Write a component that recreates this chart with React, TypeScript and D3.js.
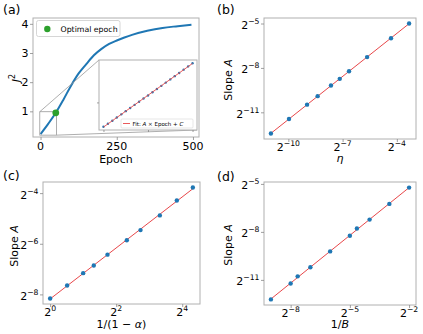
import React, { useRef, useEffect } from "react";
import * as d3 from "d3";

const W = 423;
const H = 334;
const FONT = "DejaVu Sans";
const BLUE = "#1f77b4";
const RED = "#e8474a";
const GREEN = "#2ca02c";
const SPINE = "#b0b0b0";

// (a) J^2 during training
const epochs = [0, 25, 50, 75, 100, 125, 150, 175, 200, 225, 250, 275, 300, 350, 400, 450, 495];
const j2 = [0.22, 0.57, 0.95, 1.4, 1.88, 2.3, 2.62, 2.92, 3.14, 3.31, 3.43, 3.53, 3.62, 3.76, 3.86, 3.92, 3.97];
const optimalEpoch = 50;
const optimalJ2 = 0.95;
const insetEpochs = [0, 2.5, 5, 7.5, 10, 12.5, 15, 17.5, 20, 22.5, 25, 27.5, 30, 32.5, 35, 37.5, 40, 42.5, 45, 47.5, 50];
const insetJ2 = [0.22, 0.255, 0.29, 0.327, 0.363, 0.4, 0.436, 0.472, 0.508, 0.544, 0.58, 0.617, 0.653, 0.69, 0.727, 0.764, 0.801, 0.838, 0.876, 0.913, 0.95];
const xTicksA = [0, 250, 500];
const yTicksA = [1, 2, 3, 4];

// (b) slope vs learning rate
const eta = [0.0005, 0.001, 0.002, 0.003, 0.005, 0.007, 0.01, 0.02, 0.05, 0.1];
const slopeEta = [1.811e-4, 3.574e-4, 7.0e-4, 1.04e-3, 1.713e-3, 2.338e-3, 3.352e-3, 6.48e-3, 0.015625, 0.03125];
const xTicksB = [-10, -7, -4];
const yTicksB = [-5, -8, -11];

// (c) slope vs momentum
const alpha = [0, 0.3, 0.5, 0.6, 0.7, 0.8, 0.85, 0.9, 0.93, 0.95];
const slopeAlpha = [0.003496, 0.004979, 0.006992, 0.008609, 0.011598, 0.017217, 0.02272, 0.03397, 0.05112, 0.0728];
const xTicksC = [0, 2, 4];
const yTicksC = [-4, -6, -8];

// (d) slope vs batch size
const batch = [512, 256, 200, 128, 64, 32, 25, 16, 8, 4];
const slopeBatch = [2.096e-4, 4.163e-4, 5.687e-4, 8.442e-4, 1.677e-3, 3.307e-3, 4.518e-3, 6.661e-3, 0.01314, 0.02664];
const xTicksD = [-8, -5, -2];
const yTicksD = [-5, -8, -11];

type Box = { x0: number; x1: number; y0: number; y1: number };

const TICK_FS = 11;

const addRich = (t: any, parts: [string, boolean][]) => {
  parts.forEach(([s, it]) => {
    t.append("tspan").attr("font-style", it ? "italic" : "normal").text(s);
  });
};

const pow2 = (t: any, e: number, size: number) => {
  t.append("tspan").text("2");
  t.append("tspan")
    .attr("font-size", size * 0.7)
    .attr("dy", -size * 0.45)
    .text(e < 0 ? "\u2212" + Math.abs(e) : String(e));
};

const frame = (g: any, b: Box) => {
  g.append("rect")
    .attr("x", b.x0)
    .attr("y", b.y0)
    .attr("width", b.x1 - b.x0)
    .attr("height", b.y1 - b.y0)
    .attr("fill", "none")
    .attr("stroke", SPINE)
    .attr("stroke-width", 1);
};

const tickMarks = (g: any, b: Box, x: any, y: any, xv: number[], yv: number[], len = 3) => {
  g.append("g")
    .attr("transform", `translate(0,${b.y1})`)
    .call(d3.axisBottom(x).tickValues(xv).tickSize(len).tickFormat(() => ""))
    .call((s: any) => s.select(".domain").remove())
    .selectAll("line")
    .attr("stroke", "#888")
    .attr("stroke-width", 0.8);
  g.append("g")
    .attr("transform", `translate(${b.x0},0)`)
    .call(d3.axisLeft(y).tickValues(yv).tickSize(len).tickFormat(() => ""))
    .call((s: any) => s.select(".domain").remove())
    .selectAll("line")
    .attr("stroke", "#888")
    .attr("stroke-width", 0.8);
};

const logDomain = (v: number[]) => {
  const lo = Math.log2(d3.min(v) as number);
  const hi = Math.log2(d3.max(v) as number);
  const pad = 0.05 * (hi - lo);
  return [Math.pow(2, lo - pad), Math.pow(2, hi + pad)];
};

const drawLogPanel = (
  svg: any,
  b: Box,
  xs: number[],
  ys: number[],
  xt: number[],
  yt: number[],
  tag: string,
  xLabel: [string, boolean][],
  labelPos: { tagX: number; tagY: number; xlX: number; xlY: number; ylX: number; ylY: number }
) => {
  const g = svg.append("g");
  const x = d3.scaleLog().base(2).domain(logDomain(xs)).range([b.x0, b.x1]);
  const y = d3.scaleLog().base(2).domain(logDomain(ys)).range([b.y1, b.y0]);

  // least squares fit in log space
  const lx = xs.map((v) => Math.log2(v));
  const ly = ys.map((v) => Math.log2(v));
  const mx = d3.mean(lx) as number;
  const my = d3.mean(ly) as number;
  const m = d3.sum(lx, (v, i) => (v - mx) * (ly[i] - my)) / d3.sum(lx, (v) => (v - mx) ** 2);
  const c = my - m * mx;
  const ends = d3.extent(lx) as [number, number];

  g.append("line")
    .attr("x1", x(Math.pow(2, ends[0])))
    .attr("y1", y(Math.pow(2, m * ends[0] + c)))
    .attr("x2", x(Math.pow(2, ends[1])))
    .attr("y2", y(Math.pow(2, m * ends[1] + c)))
    .attr("stroke", RED)
    .attr("stroke-width", 1);

  g.selectAll(".pt")
    .data(xs)
    .enter()
    .append("circle")
    .attr("cx", (d: number) => x(d))
    .attr("cy", (d: number, i: number) => y(ys[i]))
    .attr("r", 2.2)
    .attr("fill", BLUE);

  frame(g, b);
  tickMarks(
    g,
    b,
    x,
    y,
    xt.map((e) => Math.pow(2, e)),
    yt.map((e) => Math.pow(2, e))
  );

  xt.forEach((e) => {
    const t = g
      .append("text")
      .attr("x", x(Math.pow(2, e)))
      .attr("y", b.y1 + 11.5)
      .attr("text-anchor", "middle")
      .attr("font-size", TICK_FS);
    pow2(t, e, TICK_FS);
  });
  yt.forEach((e) => {
    const t = g
      .append("text")
      .attr("x", b.x0 - 4.5)
      .attr("y", y(Math.pow(2, e)) + 5.5)
      .attr("text-anchor", "end")
      .attr("font-size", TICK_FS);
    pow2(t, e, TICK_FS);
  });

  const xl = g
    .append("text")
    .attr("x", labelPos.xlX)
    .attr("y", labelPos.xlY)
    .attr("text-anchor", "middle")
    .attr("font-size", 11);
  addRich(xl, xLabel);

  const yl = g
    .append("text")
    .attr("transform", `translate(${labelPos.ylX},${labelPos.ylY}) rotate(-90)`)
    .attr("text-anchor", "middle")
    .attr("font-size", 11);
  addRich(yl, [
    ["Slope ", false],
    ["A", true],
  ]);

  g.append("text")
    .attr("x", labelPos.tagX)
    .attr("y", labelPos.tagY)
    .attr("font-size", 12.5)
    .text(tag);
};

const drawA = (svg: any) => {
  const b: Box = { x0: 33, x1: 199, y0: 18, y1: 137 };
  const g = svg.append("g");
  const x = d3.scaleLinear().domain([-24.75, 519.75]).range([b.x0, b.x1]);
  const y = d3.scaleLinear().domain([0.12, 4.2]).range([b.y1, b.y0]);

  const line = d3
    .line<number>()
    .x((d) => x(d))
    .y((d, i) => y(j2[i]))
    .curve(d3.curveMonotoneX);
  g.append("path")
    .attr("d", line(epochs))
    .attr("fill", "none")
    .attr("stroke", BLUE)
    .attr("stroke-width", 2);

  // inset
  const ib: Box = { x0: 99, x1: 197, y0: 60, y1: 130 };
  const ix = d3.scaleLinear().domain([-2.5, 52.5]).range([ib.x0, ib.x1]);
  const ilo = d3.min(insetJ2) as number;
  const ihi = d3.max(insetJ2) as number;
  const ipad = 0.05 * (ihi - ilo);
  const iyDom = [ilo - ipad, ihi + ipad];
  const iy = d3.scaleLinear().domain(iyDom).range([ib.y1, ib.y0]);

  // zoom rectangle + connectors
  const rx0 = x(ix.domain()[0]);
  const rx1 = x(ix.domain()[1]);
  const ry0 = y(iyDom[1]);
  const ry1 = y(iyDom[0]);
  g.append("rect")
    .attr("x", rx0)
    .attr("y", ry0)
    .attr("width", rx1 - rx0)
    .attr("height", ry1 - ry0)
    .attr("fill", "none")
    .attr("stroke", "#999")
    .attr("stroke-width", 0.8);
  g.append("line")
    .attr("x1", rx0).attr("y1", ry0).attr("x2", ib.x0).attr("y2", ib.y0)
    .attr("stroke", "#999").attr("stroke-width", 0.8);
  g.append("line")
    .attr("x1", rx1).attr("y1", ry1).attr("x2", ib.x1).attr("y2", ib.y1)
    .attr("stroke", "#999").attr("stroke-width", 0.8);

  g.append("circle")
    .attr("cx", x(optimalEpoch))
    .attr("cy", y(optimalJ2))
    .attr("r", 3.4)
    .attr("fill", GREEN);

  frame(g, b);
  tickMarks(g, b, x, y, xTicksA, yTicksA);
  xTicksA.forEach((v) => {
    g.append("text")
      .attr("x", x(v))
      .attr("y", b.y1 + 13)
      .attr("text-anchor", "middle")
      .attr("font-size", TICK_FS)
      .text(v);
  });
  yTicksA.forEach((v) => {
    g.append("text")
      .attr("x", b.x0 - 4.5)
      .attr("y", y(v) + 4)
      .attr("text-anchor", "end")
      .attr("font-size", TICK_FS)
      .text(v);
  });

  // inset axes
  const ig = g.append("g");
  ig.append("rect")
    .attr("x", ib.x0)
    .attr("y", ib.y0)
    .attr("width", ib.x1 - ib.x0)
    .attr("height", ib.y1 - ib.y0)
    .attr("fill", "#fff");
  ig.selectAll(".ipt")
    .data(insetEpochs)
    .enter()
    .append("circle")
    .attr("cx", (d: number) => ix(d))
    .attr("cy", (d: number, i: number) => iy(insetJ2[i]))
    .attr("r", 1.2)
    .attr("fill", BLUE);
  const n = insetEpochs.length;
  const meanE = d3.mean(insetEpochs) as number;
  const meanJ = d3.mean(insetJ2) as number;
  const fitM =
    d3.sum(insetEpochs, (v, i) => (v - meanE) * (insetJ2[i] - meanJ)) /
    d3.sum(insetEpochs, (v) => (v - meanE) ** 2);
  const fitC = meanJ - fitM * meanE;
  ig.append("line")
    .attr("x1", ix(insetEpochs[0]))
    .attr("y1", iy(fitM * insetEpochs[0] + fitC))
    .attr("x2", ix(insetEpochs[n - 1]))
    .attr("y2", iy(fitM * insetEpochs[n - 1] + fitC))
    .attr("stroke", RED)
    .attr("stroke-width", 0.9);
  frame(ig, ib);
  tickMarks(ig, ib, ix, iy, [0, 25, 50], [0.5], 2);

  // inset legend
  ig.append("rect")
    .attr("x", 121)
    .attr("y", 119)
    .attr("width", 72)
    .attr("height", 9)
    .attr("rx", 1)
    .attr("fill", "#fff")
    .attr("stroke", "#ccc")
    .attr("stroke-width", 0.5);
  ig.append("line")
    .attr("x1", 123)
    .attr("x2", 130)
    .attr("y1", 123.5)
    .attr("y2", 123.5)
    .attr("stroke", RED)
    .attr("stroke-width", 0.9);
  const lt = ig.append("text").attr("x", 132.5).attr("y", 125.5).attr("font-size", 5.5);
  addRich(lt, [
    ["Fit: ", false],
    ["A", true],
    [" \u00d7 Epoch + ", false],
    ["C", true],
  ]);

  // legend
  g.append("rect")
    .attr("x", 36.5)
    .attr("y", 20.5)
    .attr("width", 83.5)
    .attr("height", 16)
    .attr("rx", 2)
    .attr("fill", "#fff")
    .attr("stroke", "#ccc")
    .attr("stroke-width", 0.8);
  g.append("circle").attr("cx", 47.3).attr("cy", 29).attr("r", 3.2).attr("fill", GREEN);
  g.append("text").attr("x", 60.5).attr("y", 31.8).attr("font-size", 7.8).text("Optimal epoch");

  g.append("text")
    .attr("x", (b.x0 + b.x1) / 2)
    .attr("y", 163)
    .attr("text-anchor", "middle")
    .attr("font-size", 11)
    .text("Epoch");
  const yl = g
    .append("text")
    .attr("transform", `translate(20,78) rotate(-90)`)
    .attr("text-anchor", "middle")
    .attr("font-size", 11);
  yl.append("tspan").attr("font-style", "italic").text("J");
  yl.append("tspan").attr("font-size", 8).attr("dy", -5).text("2");

  g.append("text").attr("x", 3).attr("y", 14).attr("font-size", 12.5).text("(a)");
};

export default function App() {
  const svgRef = useRef<SVGSVGElement>(null);

  useEffect(() => {
    const svg = d3.select(svgRef.current);
    svg.selectAll("*").remove();
    svg.attr("font-family", FONT).attr("fill", "#000");

    drawA(svg);

    drawLogPanel(
      svg,
      { x0: 264, x1: 416, y0: 18, y1: 139 },
      eta,
      slopeEta,
      xTicksB,
      yTicksB,
      "(b)",
      [["\u03b7", true]],
      { tagX: 217, tagY: 14, xlX: 340, xlY: 161.5, ylX: 232, ylY: 80 }
    );

    drawLogPanel(
      svg,
      { x0: 43, x1: 200, y0: 182, y1: 304 },
      alpha.map((a) => 1 / (1 - a)),
      slopeAlpha,
      xTicksC,
      yTicksC,
      "(c)",
      [
        ["1/(1 \u2212 ", false],
        ["\u03b1", true],
        [")", false],
      ],
      { tagX: 3, tagY: 180, xlX: 121.5, xlY: 328, ylX: 18, ylY: 246 }
    );

    drawLogPanel(
      svg,
      { x0: 264, x1: 416, y0: 182, y1: 305 },
      batch.map((v) => 1 / v),
      slopeBatch,
      xTicksD,
      yTicksD,
      "(d)",
      [
        ["1/", false],
        ["B", true],
      ],
      { tagX: 217, tagY: 181, xlX: 340, xlY: 328, ylX: 232, ylY: 245 }
    );
  }, []);

  return (
    <svg
      ref={svgRef}
      width={W}
      height={H}
      style={{ position: "absolute", left: 0, top: 0, background: "#fff" }}
    ></svg>
  );
}
